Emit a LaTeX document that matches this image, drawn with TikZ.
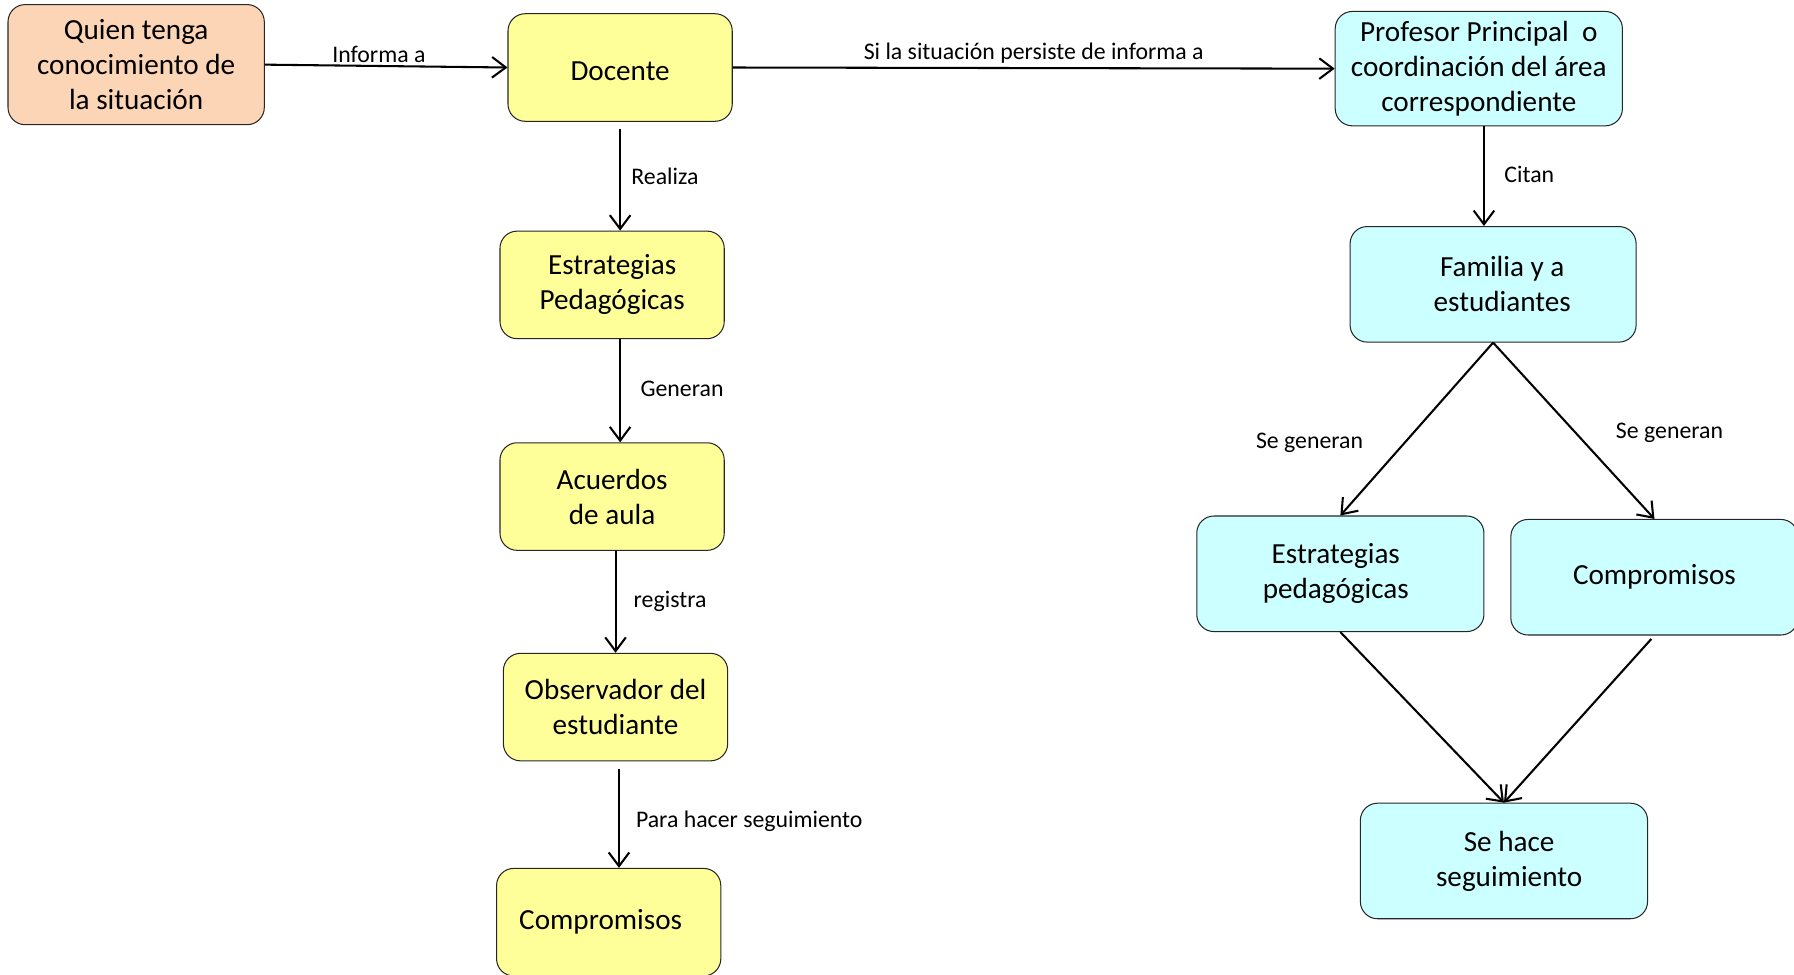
\documentclass[tikz,border=0pt]{standalone}
\usepackage{fontspec}
\setmainfont{Carlito}
\usetikzlibrary{arrows.meta}
\definecolor{durazno}{HTML}{FBD5B5}
\definecolor{amarillo}{HTML}{FFFF99}
\definecolor{celeste}{HTML}{CCFFFF}
\tikzset{
    caja/.style={draw=black!85, line width=0.9pt, rounded corners=15pt, align=center, inner sep=0pt,
        font=\fontsize{25.5}{30.5}\selectfont},
    cajaA/.style={caja, fill=amarillo, minimum width=196pt, minimum height=94pt},
    cajaC/.style={caja, fill=celeste, minimum width=251pt, minimum height=101pt},
    flecha/.style={-{Straight Barb[length=12pt,width=18pt]}, line width=1.8pt},
    etiqueta/.style={font=\fontsize{20.8}{25}\selectfont, inner sep=2pt}
}

\begin{document}
\begin{tikzpicture}[x=1pt,y=-1pt]
            \useasboundingbox (0,0) rectangle (1568,851.3);
            \node[caja, fill=durazno, minimum width=224pt, minimum height=105pt] (quien) at (119,56.5) {Quien tenga\\conocimiento de\\la situación};
            \node[cajaA] (doc) at (542,59) {\raisebox{-3pt}[\height][\depth]{Docente}};
            \node[cajaA] (estA) at (535,249) {Estrategias\\Pedagógicas};
            \node[cajaA] (acu) at (535,434) {Acuerdos\\de aula};
            \node[cajaA] (obs) at (538,618) {Observador del\\estudiante};
            \node[cajaA] (comA) at (532,806) {Compromisos\hspace*{14pt}};

            \node[cajaC, minimum height=100pt] (prof) at (1292.5,60) {Profesor Principal\ \ o\\coordinación del área\\correspondiente};
            \node[cajaC, minimum width=250pt] (fam) at (1305,248.5) {\hspace*{16pt}Familia y a\\\hspace*{16pt}estudiantes};
            \node[cajaC] (estB) at (1171.5,501.5) {Estrategias\hspace*{8pt}\\pedagógicas\hspace*{8pt}};
            \node[cajaC] (comB) at (1446,504.5) {Compromisos};
            \node[cajaC] (seg) at (1314.5,752.5) {\hspace*{9pt}Se hace\\\hspace*{9pt}seguimiento};

            \draw[flecha] (quien.east) -- (doc.west) node[etiqueta, pos=0.47, above=0pt] {Informa a};
            \draw[flecha] (doc.east) -- (prof.west) node[etiqueta, midway, above=1pt] {Si la situación persiste de informa a};
            \draw[flecha, shorten <=6pt] (doc.south) -- (doc.south |- estA.north) node[etiqueta, midway, right=7pt] {Realiza};
            \draw[flecha] (doc.south |- estA.south) -- (doc.south |- acu.north) node[etiqueta, midway, right=15pt, yshift=2pt] {Generan};
            \draw[flecha] (obs.north |- acu.south) -- (obs.north) node[etiqueta, midway, right=13pt] {registra};
            \draw[flecha, shorten <=7pt] ([xshift=9pt]comA.north |- obs.south) -- ([xshift=9pt]comA.north) node[etiqueta, midway, right=12pt, yshift=-6pt] {Para hacer seguimiento};

            \draw[flecha] ([xshift=4.5pt]prof.south) -- ([xshift=4.5pt]prof.south |- fam.north) node[etiqueta, midway, right=15pt, yshift=2pt] {Citan};
            \draw[flecha] (fam.south) -- (estB.north) node[etiqueta, midway, left=44pt, yshift=-12pt] {Se generan};
            \draw[flecha] (fam.south) -- (comB.north) node[etiqueta, midway, right=34pt, yshift=-2pt] {Se generan};
            \draw[flecha] (estB.south) -- (seg.north);
            \draw[flecha, shorten <=4pt] (comB.south) -- (seg.north);
        \end{tikzpicture}
\end{document}
